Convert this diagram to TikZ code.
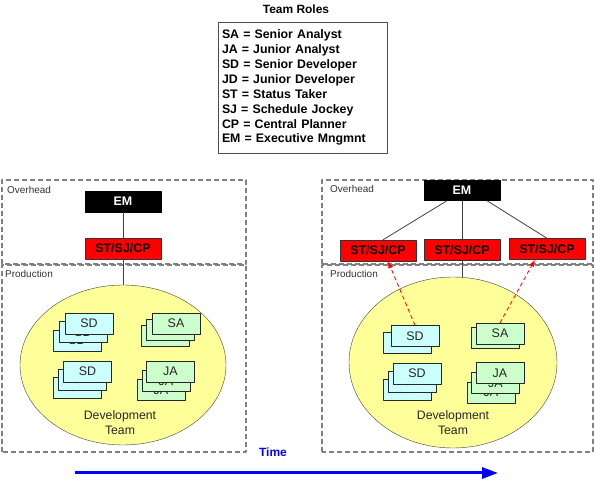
\documentclass[tikz,border=0pt]{standalone}
\usepackage{fontspec}
\setmainfont{Liberation Sans}
\usetikzlibrary{arrows.meta,shapes.geometric}
\definecolor{devcyan}{HTML}{CCFFFF}
\definecolor{devgreen}{HTML}{CCFFCC}
\definecolor{teamyellow}{HTML}{FFFF99}
\definecolor{zonegray}{HTML}{808080}
\definecolor{timeblue}{HTML}{0000FF}

\begin{document}
\begin{tikzpicture}[>=latex,line join=bevel,
  zone/.style={draw=zonegray,line width=1.2bp,dash pattern=on 5bp off 3bp},
  zonelabel/.style={anchor=west,inner sep=0pt,text=black!80,font=\fontsize{10}{12}\selectfont},
  boss/.style={draw=black,fill=black,text=white,minimum width=76bp,minimum height=21bp,inner sep=0pt,font=\fontsize{12.5}{14}\selectfont\bfseries},
  staff/.style={draw=black!80,fill=red,minimum width=76bp,minimum height=21bp,inner sep=0pt,font=\fontsize{12.5}{14}\selectfont\bfseries},
  card/.style={draw=black!85,minimum width=48bp,minimum height=21bp,inner sep=0pt,text=black!85,font=\fontsize{12.5}{14}\selectfont},
  team/.style={draw=black!75,fill=teamyellow,ellipse,inner sep=0pt},
  link/.style={draw=black!75,line width=0.8bp},
  report/.style={draw=red,line width=0.8bp,dash pattern=on 4bp off 3bp,-{Latex[length=7bp,width=5bp]}},
  timeline/.style={draw=timeblue,line width=3bp,-{Triangle[length=16bp,width=11bp]}},
]
\useasboundingbox (0,0) rectangle (595bp,480bp);
%% legend
\node (title) at (296bp,470.5bp) [font=\fontsize{12}{14}\selectfont\bfseries] {Team Roles};
\node (roles) at (302.5bp,392.5bp) [draw=black!70,minimum width=169bp,minimum height=131bp,text width=161bp,inner xsep=4bp,align=left,font=\fontsize{12.4}{15}\selectfont\bfseries]
  {SA = Senior Analyst\\JA = Junior Analyst\\SD = Senior Developer\\JD = Junior Developer\\ST = Status Taker\\SJ = Schedule Jockey\\CP = Central Planner\\EM = Executive Mngmnt};
%% zones
\draw [zone] (2bp,216bp) rectangle (246bp,300bp);
\draw [zone] (2bp,28bp) rectangle (246bp,215bp);
\draw [zone] (322bp,216bp) rectangle (593bp,300bp);
\draw [zone] (322bp,28bp) rectangle (593bp,215bp);
\node (over1) at (7bp,290bp) [zonelabel] {Overhead};
\node (prod1) at (5bp,206bp) [zonelabel] {Production};
\node (over2) at (330bp,291bp) [zonelabel] {Overhead};
\node (prod2) at (330bp,206bp) [zonelabel] {Production};
%% before
\node (EM1) at (123bp,278.5bp) [boss] {EM};
\node (STSJCP1) at (123bp,231.5bp) [staff] {ST/SJ/CP};
\node (team1) at (123bp,115bp) [team,minimum width=206bp,minimum height=160bp] {};
\node (SD1c) at (77bp,139.5bp) [card,fill=devcyan] {SD};
\node (SD1b) at (83bp,148bp) [card,fill=devcyan] {SD};
\node (SD1a) at (89bp,156.5bp) [card,fill=devcyan] {SD};
\node (SA1c) at (165bp,144bp) [card,fill=devgreen] {SA};
\node (SA1b) at (170.5bp,150bp) [card,fill=devgreen] {SA};
\node (SA1a) at (176bp,156.5bp) [card,fill=devgreen] {SA};
\node (SD1f) at (77bp,92.5bp) [card,fill=devcyan] {SD};
\node (SD1e) at (82bp,100.5bp) [card,fill=devcyan] {SD};
\node (SD1d) at (87.5bp,108.5bp) [card,fill=devcyan] {SD};
\node (JA1c) at (161bp,90bp) [card,fill=devgreen] {JA};
\node (JA1b) at (166bp,99bp) [card,fill=devgreen] {JA};
\node (JA1a) at (170.5bp,108.5bp) [card,fill=devgreen] {JA};
\node (dev1) at (120bp,57bp) [align=center,text=black!85,font=\fontsize{12.3}{15}\selectfont] {Development\\Team};
%% after
\node (EM2) at (462bp,289.5bp) [boss,minimum height=20bp] {EM};
\node (STSJCP2a) at (378bp,229.5bp) [staff] {ST/SJ/CP};
\node (STSJCP2b) at (462bp,230bp) [staff] {ST/SJ/CP};
\node (STSJCP2c) at (547bp,231bp) [staff] {ST/SJ/CP};
\node (team2) at (453bp,117.5bp) [team,minimum width=208bp,minimum height=171bp] {};
\node (SD2b) at (407bp,137.5bp) [card,fill=devcyan] {SD};
\node (SD2a) at (415bp,144bp) [card,fill=devcyan] {SD};
\node (SA2b) at (495bp,142.5bp) [card,fill=devgreen] {SA};
\node (SA2a) at (500bp,146.5bp) [card,fill=devgreen] {SA};
\node (SD2e) at (407bp,90.5bp) [card,fill=devcyan] {SD};
\node (SD2d) at (412bp,98.5bp) [card,fill=devcyan] {SD};
\node (SD2c) at (417bp,106.5bp) [card,fill=devcyan] {SD};
\node (JA2c) at (491bp,87.5bp) [card,fill=devgreen] {JA};
\node (JA2b) at (495.5bp,97bp) [card,fill=devgreen] {JA};
\node (JA2a) at (500bp,107bp) [card,fill=devgreen] {JA};
\node (dev2) at (453bp,57bp) [align=center,text=black!85,font=\fontsize{12.3}{15}\selectfont] {Development\\Team};
%% time
\node (time) at (273bp,27.5bp) [text=timeblue,font=\fontsize{12}{14}\selectfont\bfseries] {Time};
\coordinate (t0) at (75bp,7bp);
\coordinate (t1) at (498bp,7bp);
%% links
\draw [link] (EM1) -- (STSJCP1);
\draw [link] (STSJCP1) -- (team1);
\draw [link] ([xshift=-15bp]EM2.south) -- ([xshift=5bp]STSJCP2a.north);
\draw [link] (EM2) -- (STSJCP2b);
\draw [link] ([xshift=25bp]EM2.south) -- (STSJCP2c.north);
\draw [link] (STSJCP2b.south) -- (STSJCP2b.south |- team2.north);
\draw [report] (SD2a.north) -- ([xshift=10bp]STSJCP2a.south);
\draw [report] (SA2a.north) -- ([xshift=-12bp]STSJCP2c.south);
\draw [timeline] (t0) -- (t1);
%
\end{tikzpicture}
\end{document}
